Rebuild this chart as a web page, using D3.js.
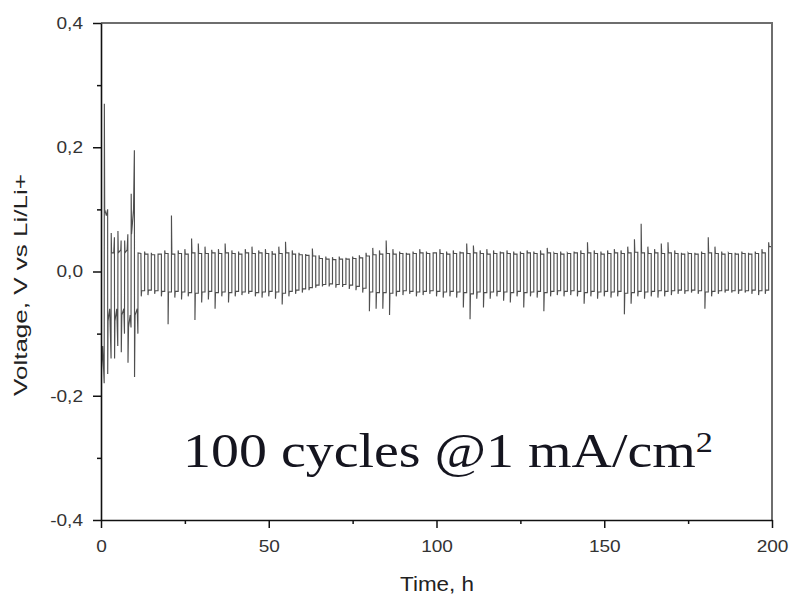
<!DOCTYPE html>
<html>
<head>
<meta charset="utf-8">
<script src="https://cdn.jsdelivr.net/npm/d3@7"></script>
<style>
  body { margin: 0; background: #fff; }
  .sans { font-family: Arial, "Liberation Sans", sans-serif; }
  .serif { font-family: "Liberation Serif", "Times New Roman", serif; }
</style>
</head>
<body>
<svg width="792" height="599"></svg>
<script>
// axis ticks
var xTicks = [0, 50, 100, 150, 200];
var xMinor = [25, 75, 125, 175];
var yTicks = [-0.4, -0.2, 0.0, 0.2, 0.4];
var yMinor = [-0.3, -0.1, 0.1, 0.3];

// first 12 h, irregular part of the trace (time h, voltage V)
var earlyTime = [0.00, 0.02, 0.15, 0.50, 0.95, 1.00, 1.10, 1.60, 1.98, 2.00, 2.10, 2.60, 3.00,
                 3.05, 3.15, 3.80, 4.00, 4.05, 4.15, 4.70, 5.00, 5.05, 5.15, 5.90, 6.00,
                 6.05, 6.20, 6.80, 7.00, 7.05, 7.15, 7.80, 8.00, 8.05, 8.20, 8.70, 8.95,
                 9.00, 9.10, 9.70, 9.95, 10.00, 10.15, 10.80, 11.00, 11.05, 11.90];
var earlyVolt = [-0.05, -0.22, -0.16, -0.12, -0.18, 0.27, 0.10, 0.09, 0.10, -0.165, -0.08, -0.06, -0.14,
                 0.062, 0.03, 0.03, 0.055, -0.14, -0.08, -0.06, -0.12, 0.065, 0.03, 0.035, 0.05,
                 -0.13, -0.07, -0.06, -0.10, 0.05, 0.03, 0.035, 0.06, -0.147, -0.09, -0.07, -0.09,
                 0.125, 0.06, 0.10, 0.195, -0.17, -0.07, -0.06, -0.10, 0.03, 0.029];

// regular cycles from 12 h on: 1 h stripping (down) + 1 h plating (up)
var firstCycleStart = 12;
var halfCycle = 1;
var downPeak = [-0.040,-0.038,-0.036,-0.040,-0.085,-0.042,-0.045,-0.040,-0.078,-0.050,
                -0.045,-0.060,-0.040,-0.050,-0.040,-0.038,-0.036,-0.040,-0.042,-0.040,
                -0.044,-0.053,-0.040,-0.036,-0.034,-0.030,-0.026,-0.024,-0.024,-0.026,
                -0.025,-0.028,-0.030,-0.034,-0.064,-0.060,-0.060,-0.070,-0.040,-0.038,
                -0.036,-0.040,-0.038,-0.036,-0.040,-0.042,-0.040,-0.042,-0.058,-0.077,
                -0.044,-0.058,-0.044,-0.040,-0.047,-0.050,-0.040,-0.058,-0.040,-0.042,
                -0.064,-0.040,-0.038,-0.040,-0.038,-0.040,-0.052,-0.040,-0.044,-0.040,
                -0.042,-0.040,-0.069,-0.052,-0.040,-0.044,-0.040,-0.042,-0.040,-0.038,
                -0.036,-0.036,-0.034,-0.036,-0.060,-0.040,-0.036,-0.034,-0.034,-0.036,
                -0.034,-0.036,-0.038,-0.036];
var downLevel = [-0.031,-0.030,-0.031,-0.032,-0.033,-0.032,-0.033,-0.034,-0.035,-0.033,
                 -0.032,-0.034,-0.033,-0.034,-0.032,-0.033,-0.032,-0.034,-0.033,-0.032,
                 -0.033,-0.035,-0.032,-0.030,-0.028,-0.026,-0.022,-0.021,-0.020,-0.021,
                 -0.021,-0.022,-0.024,-0.027,-0.033,-0.034,-0.034,-0.035,-0.032,-0.031,
                 -0.032,-0.033,-0.032,-0.031,-0.032,-0.033,-0.032,-0.033,-0.034,-0.036,
                 -0.033,-0.034,-0.033,-0.032,-0.033,-0.034,-0.032,-0.034,-0.033,-0.032,
                 -0.034,-0.032,-0.031,-0.032,-0.031,-0.032,-0.034,-0.032,-0.033,-0.032,
                 -0.033,-0.032,-0.035,-0.034,-0.032,-0.033,-0.032,-0.031,-0.032,-0.031,
                 -0.030,-0.031,-0.030,-0.031,-0.033,-0.032,-0.031,-0.030,-0.031,-0.030,
                 -0.031,-0.030,-0.031,-0.030];
var upPeak = [0.032,0.030,0.028,0.034,0.090,0.034,0.036,0.053,0.045,0.040,
              0.035,0.036,0.045,0.034,0.032,0.036,0.040,0.034,0.036,0.033,
              0.040,0.048,0.034,0.030,0.028,0.037,0.026,0.024,0.023,0.024,
              0.022,0.024,0.026,0.030,0.038,0.034,0.050,0.036,0.032,0.030,
              0.032,0.036,0.032,0.030,0.036,0.032,0.034,0.032,0.045,0.042,
              0.034,0.036,0.034,0.032,0.034,0.032,0.032,0.034,0.032,0.034,
              0.038,0.030,0.032,0.030,0.032,0.034,0.047,0.034,0.032,0.034,
              0.036,0.034,0.040,0.052,0.077,0.040,0.036,0.045,0.047,0.034,
              0.030,0.030,0.030,0.032,0.055,0.040,0.032,0.030,0.030,0.032,
              0.030,0.032,0.036,0.047];
var upLevel = [0.028,0.027,0.028,0.029,0.028,0.029,0.028,0.030,0.029,0.029,
               0.030,0.029,0.030,0.029,0.028,0.030,0.029,0.030,0.029,0.028,
               0.029,0.030,0.028,0.027,0.026,0.025,0.021,0.020,0.019,0.020,
               0.020,0.021,0.022,0.025,0.027,0.028,0.029,0.028,0.029,0.028,
               0.029,0.030,0.029,0.030,0.029,0.028,0.029,0.030,0.029,0.030,
               0.029,0.028,0.029,0.030,0.029,0.028,0.029,0.030,0.029,0.028,
               0.030,0.029,0.028,0.029,0.030,0.029,0.030,0.029,0.028,0.029,
               0.030,0.029,0.030,0.031,0.030,0.029,0.030,0.029,0.030,0.029,
               0.028,0.029,0.028,0.029,0.030,0.029,0.028,0.029,0.028,0.029,
               0.028,0.029,0.030,0.040];

function main() {
    var svg = d3.select("svg");
    var left = 101, right = 772, top = 23, bottom = 520;

    var x = d3.scaleLinear().domain([0, 200]).range([left, right]);
    var y = d3.scaleLinear().domain([-0.4, 0.4]).range([bottom, top]);

    // the text in the picture is a bit wider than plain Arial
    function widen(sel, k) {
        sel.each(function() {
            var w = this.getComputedTextLength();
            d3.select(this).attr("textLength", w * k).attr("lengthAdjust", "spacingAndGlyphs");
        });
    }

    // trace points
    var pts = earlyTime.map(function(t, i) { return [t, earlyVolt[i]]; });
    downPeak.forEach(function(p, j) {
        var t0 = firstCycleStart + 2 * halfCycle * j;
        pts.push([t0, p], [t0 + 0.12, downLevel[j]], [t0 + halfCycle, downLevel[j]]);
        pts.push([t0 + halfCycle, upPeak[j]], [t0 + halfCycle + 0.12, upLevel[j]], [t0 + 2 * halfCycle, upLevel[j]]);
    });

    svg.append("clipPath").attr("id", "plot")
        .append("rect").attr("x", left).attr("y", top)
        .attr("width", right - left).attr("height", bottom - top);

    var line = d3.line().x(function(d) { return x(d[0]); }).y(function(d) { return y(d[1]); });
    svg.append("path")
        .datum(pts)
        .attr("clip-path", "url(#plot)")
        .attr("fill", "none")
        .attr("stroke", "#4f4f4f")
        .attr("stroke-width", 1.15)
        .attr("d", line);

    // frame top / right
    svg.append("path")
        .attr("d", "M" + left + "," + top + "H" + right + "V" + bottom)
        .attr("fill", "none").attr("stroke", "#6e6e6e").attr("stroke-width", 2);

    var fmt = function(d) { return d3.format(".1f")(d).replace(".", ",").replace("\u2212", "-"); };

    // minor ticks
    svg.append("g").attr("transform", "translate(" + left + ",0)")
        .call(d3.axisLeft(y).tickValues(yMinor).tickSize(4).tickFormat(""))
        .call(function(g) { g.select(".domain").remove(); });
    svg.append("g").attr("transform", "translate(0," + bottom + ")")
        .call(d3.axisBottom(x).tickValues(xMinor).tickSize(4).tickFormat(""))
        .call(function(g) { g.select(".domain").remove(); });

    var ya = svg.append("g").attr("transform", "translate(" + left + ",0)")
        .call(d3.axisLeft(y).tickValues(yTicks).tickSize(8).tickPadding(10).tickSizeOuter(0).tickFormat(fmt));
    var xa = svg.append("g").attr("transform", "translate(0," + bottom + ")")
        .call(d3.axisBottom(x).tickValues(xTicks).tickSize(8).tickPadding(12).tickSizeOuter(0));

    svg.selectAll(".tick line").attr("stroke", "#111").attr("stroke-width", 1.5);
    svg.selectAll(".domain").attr("stroke", "#111").attr("stroke-width", 1.6);
    ya.selectAll("text").attr("class", "sans").attr("font-size", 17).attr("fill", "#333");
    xa.selectAll("text").attr("class", "sans").attr("font-size", 17).attr("fill", "#333");
    widen(ya.selectAll("text"), 1.12);
    widen(xa.selectAll("text"), 1.12);

    // axis titles
    var xt = svg.append("text")
        .attr("class", "sans")
        .attr("x", 437).attr("y", 591)
        .attr("text-anchor", "middle")
        .attr("font-size", 20).attr("fill", "#222")
        .text("Time, h");
    widen(xt, 1.12);

    svg.append("text")
        .attr("class", "sans")
        .attr("transform", "translate(27,285) rotate(-90)")
        .attr("text-anchor", "middle")
        .attr("font-size", 19).attr("fill", "#222")
        .attr("textLength", 222).attr("lengthAdjust", "spacingAndGlyphs")
        .text("Voltage, V vs Li/Li+");

    // annotation
    var ann = svg.append("g");
    var at = ann.append("text")
        .attr("class", "serif")
        .attr("font-size", 49).attr("fill", "#15151f");
    at.append("tspan").text("100 cycles @1 mA/cm");
    at.append("tspan").attr("font-size", 30).attr("dy", -15).text("2");
    var w = at.node().getBBox().width;
    ann.attr("transform", "translate(183,467) scale(" + (530 / w) + ",1)");
}

main();
</script>
</body>
</html>
